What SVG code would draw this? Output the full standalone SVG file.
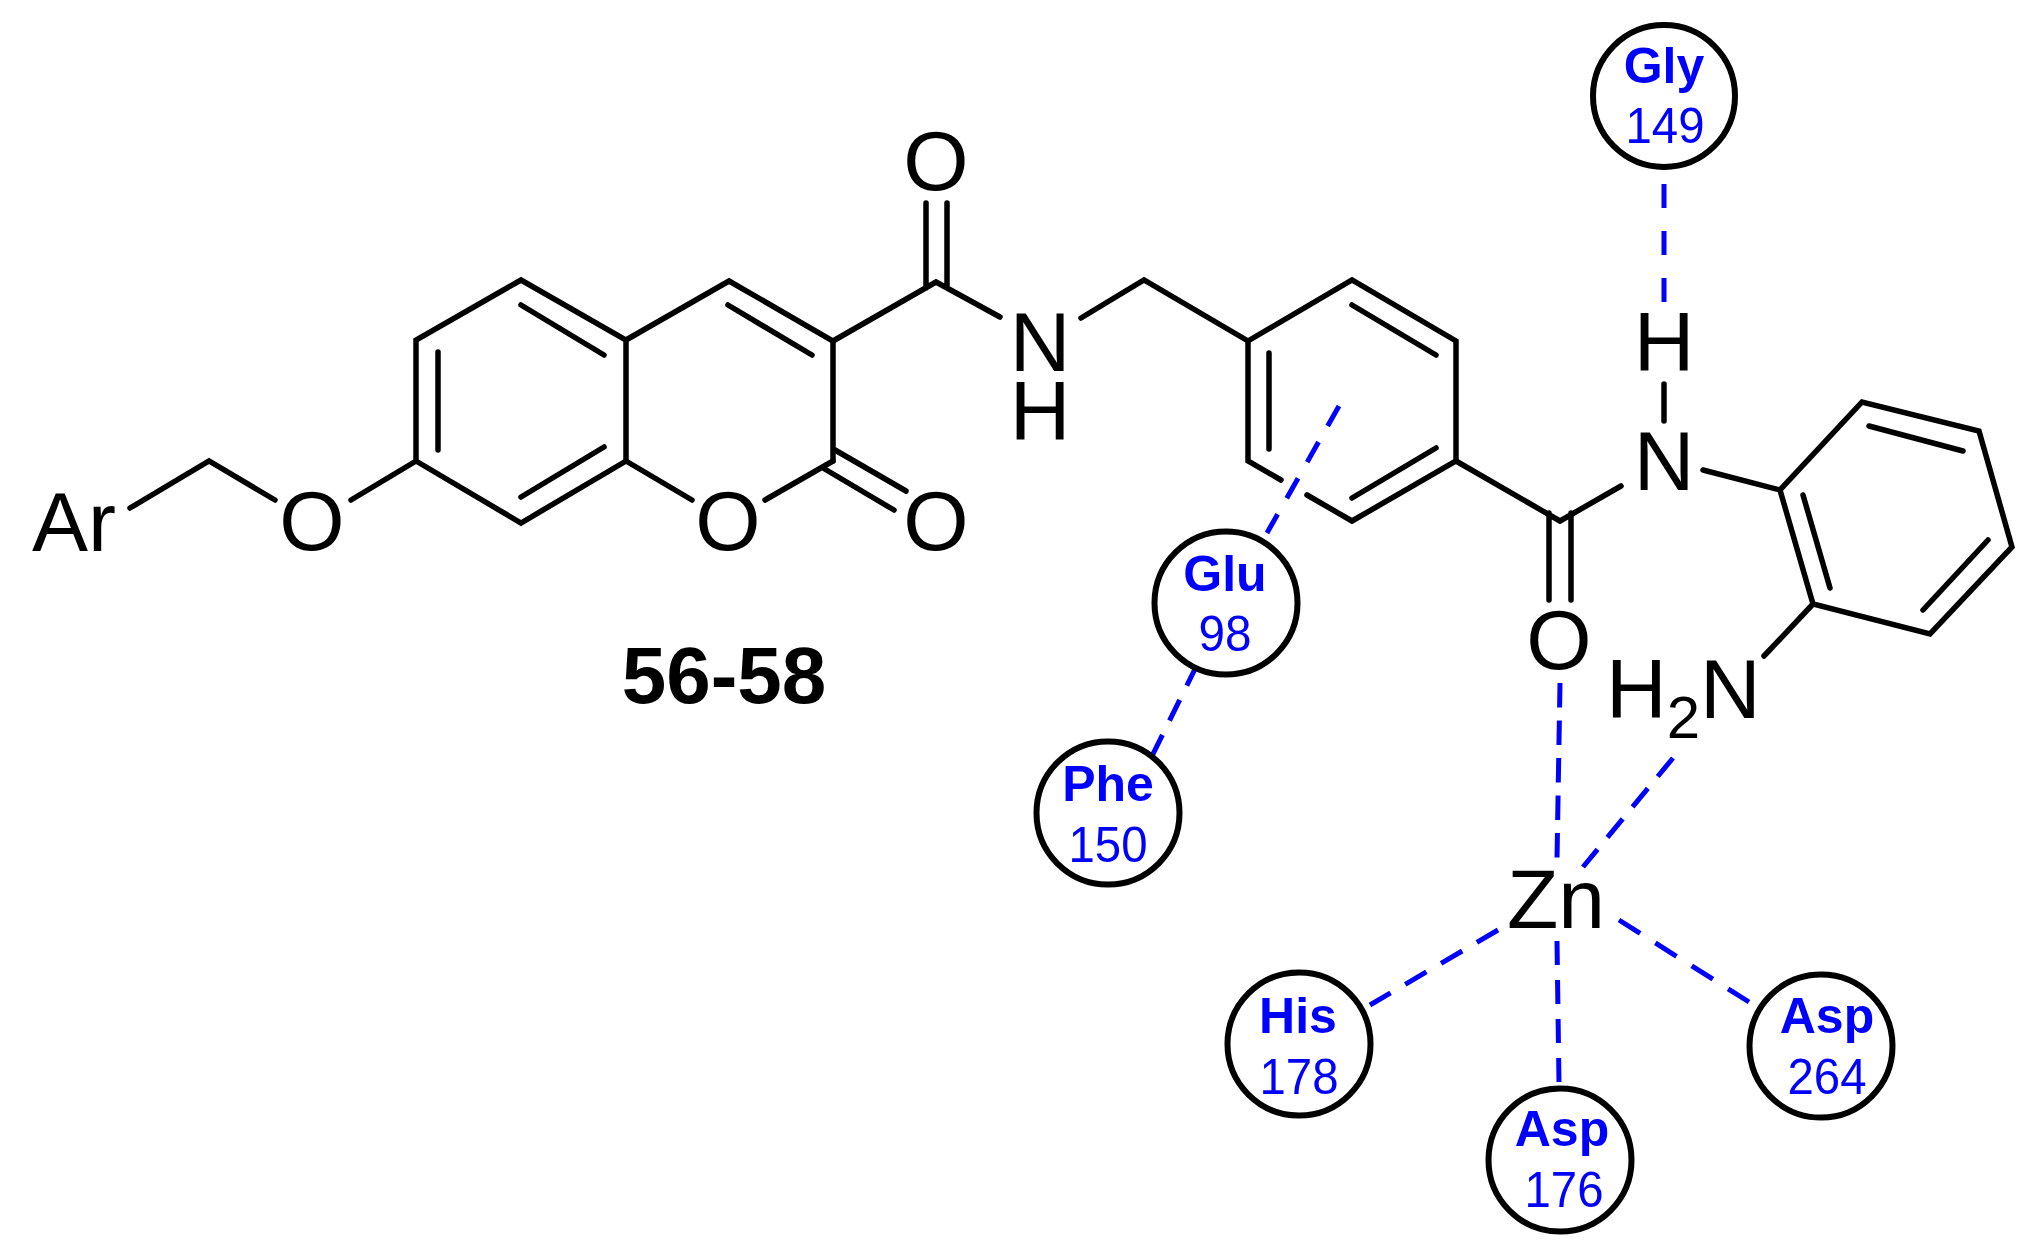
<svg xmlns="http://www.w3.org/2000/svg" width="2030" height="1247" viewBox="0 0 2030 1247">
<style>
text{font-family:"Liberation Sans",Arial,sans-serif;text-anchor:middle}
.a{font-size:84px;fill:#000}
.r{font-size:50px;font-weight:700;fill:#00f}
.n{font-size:50px;fill:#00f}
.t{font-size:80px;font-weight:700;fill:#000}
.c{fill:#fff;stroke:#000;stroke-width:6}
.b{fill:none;stroke:#000;stroke-width:5.5;stroke-linecap:round;stroke-linejoin:miter}
.d{fill:none;stroke:#00f;stroke-width:5;stroke-linecap:butt}
</style>
<rect width="2030" height="1247" fill="#fff"/>
<g id="connectors">
<g id="bonds" class="b">
<path d="M130 508 209 461 275 500"/>
<path d="M351 500 416 461V340L521 280 626 340V461L521 523 416 461"/>
<path d="M438 352V450M521 305 604 355M521 497 604 447"/>
<path d="M626 340 729 281 833 341V461M728 305 812 355"/>
<path d="M626 461 692 500M765 500 833 461"/>
<path d="M823 468 894 510M835 450 906 491"/>
<path d="M833 341 936 282 1000 317M926 203V288M947 203V288"/>
<path d="M1081 318 1144 280 1248 341V461L1281 480M1307 495 1352 521 1456 461V341L1352 280 1248 341"/>
<path d="M1269 353V449M1352 305 1436 355M1352 498 1436 448"/>
<path d="M1456 461 1560 521 1621 486M1549 513V600M1571 513V600"/>
<path d="M1664 384V421M1703 470 1780 490 1862 402 1979 431 2012 547 1930 634 1813 604 1780 490"/>
<path d="M1869 426 1963 451M1988 540 1923 610M1803 495 1830 588M1813 604 1764 656"/>
</g>
<g id="interactions" class="d">
<path d="M1664 184V302" stroke-dasharray="24 23"/>
<path d="M1339 406 1267 533" stroke-dasharray="23 18.5"/>
<path d="M1197 665 1152 756" stroke-dasharray="23 16"/>
<path d="M1560 683 1557 859" stroke-dasharray="24.5 13"/>
<path d="M1673 758 1583 867" stroke-dasharray="24 15.5"/>
<path d="M1498 930 1370 1005" stroke-dasharray="24.5 17"/>
<path d="M1557 941 1559 1083" stroke-dasharray="24 15"/>
<path d="M1619 920 1749 1002" stroke-dasharray="25 18"/>
</g>
</g>
<g id="atom-Ar"><text class="a" x="74" y="551">Ar</text></g>
<g id="atom-O-ether"><text class="a" x="312" y="550">O</text></g>
<g id="atom-O-ring"><text class="a" x="728" y="550">O</text></g>
<g id="atom-O-lactone"><text class="a" x="936" y="550">O</text></g>
<g id="atom-O-amide1"><text class="a" x="936" y="190">O</text></g>
<g id="atom-NH"><text class="a" x="1040" y="371">N</text><text class="a" x="1040" y="440">H</text></g>
<g id="atom-H"><text class="a" x="1664" y="371">H</text></g>
<g id="atom-N"><text class="a" x="1664" y="490">N</text></g>
<g id="atom-O-amide2"><text class="a" x="1559" y="669">O</text></g>
<g id="atom-NH2"><text class="a" x="1606" y="718" style="text-anchor:start">H<tspan font-size="60" dy="20">2</tspan><tspan dy="-20">N</tspan></text></g>
<g id="atom-Zn"><text class="a" x="1556" y="928">Zn</text></g>
<g id="label"><text class="t" x="724" y="703">56-58</text></g>
<g id="Gly149"><circle class="c" cx="1664" cy="96" r="71"/><text class="r" x="1664" y="83">Gly</text><text class="n" x="1665" y="143" textLength="79" lengthAdjust="spacingAndGlyphs">149</text></g>
<g id="Glu98"><circle class="c" cx="1226" cy="603" r="71.5"/><text class="r" x="1225" y="591">Glu</text><text class="n" x="1225" y="651" textLength="53" lengthAdjust="spacingAndGlyphs">98</text></g>
<g id="Phe150"><circle class="c" cx="1108" cy="813" r="71.5"/><text class="r" x="1108" y="801">Phe</text><text class="n" x="1108" y="862" textLength="79" lengthAdjust="spacingAndGlyphs">150</text></g>
<g id="His178"><circle class="c" cx="1299" cy="1044" r="71.5"/><text class="r" x="1298" y="1033">His</text><text class="n" x="1299" y="1094" textLength="79" lengthAdjust="spacingAndGlyphs">178</text></g>
<g id="Asp264"><circle class="c" cx="1821" cy="1046" r="71.5"/><text class="r" x="1827" y="1033">Asp</text><text class="n" x="1827" y="1094" textLength="79" lengthAdjust="spacingAndGlyphs">264</text></g>
<g id="Asp176"><circle class="c" cx="1560" cy="1160" r="71.5"/><text class="r" x="1562" y="1146">Asp</text><text class="n" x="1564" y="1207" textLength="79" lengthAdjust="spacingAndGlyphs">176</text></g>
</svg>
